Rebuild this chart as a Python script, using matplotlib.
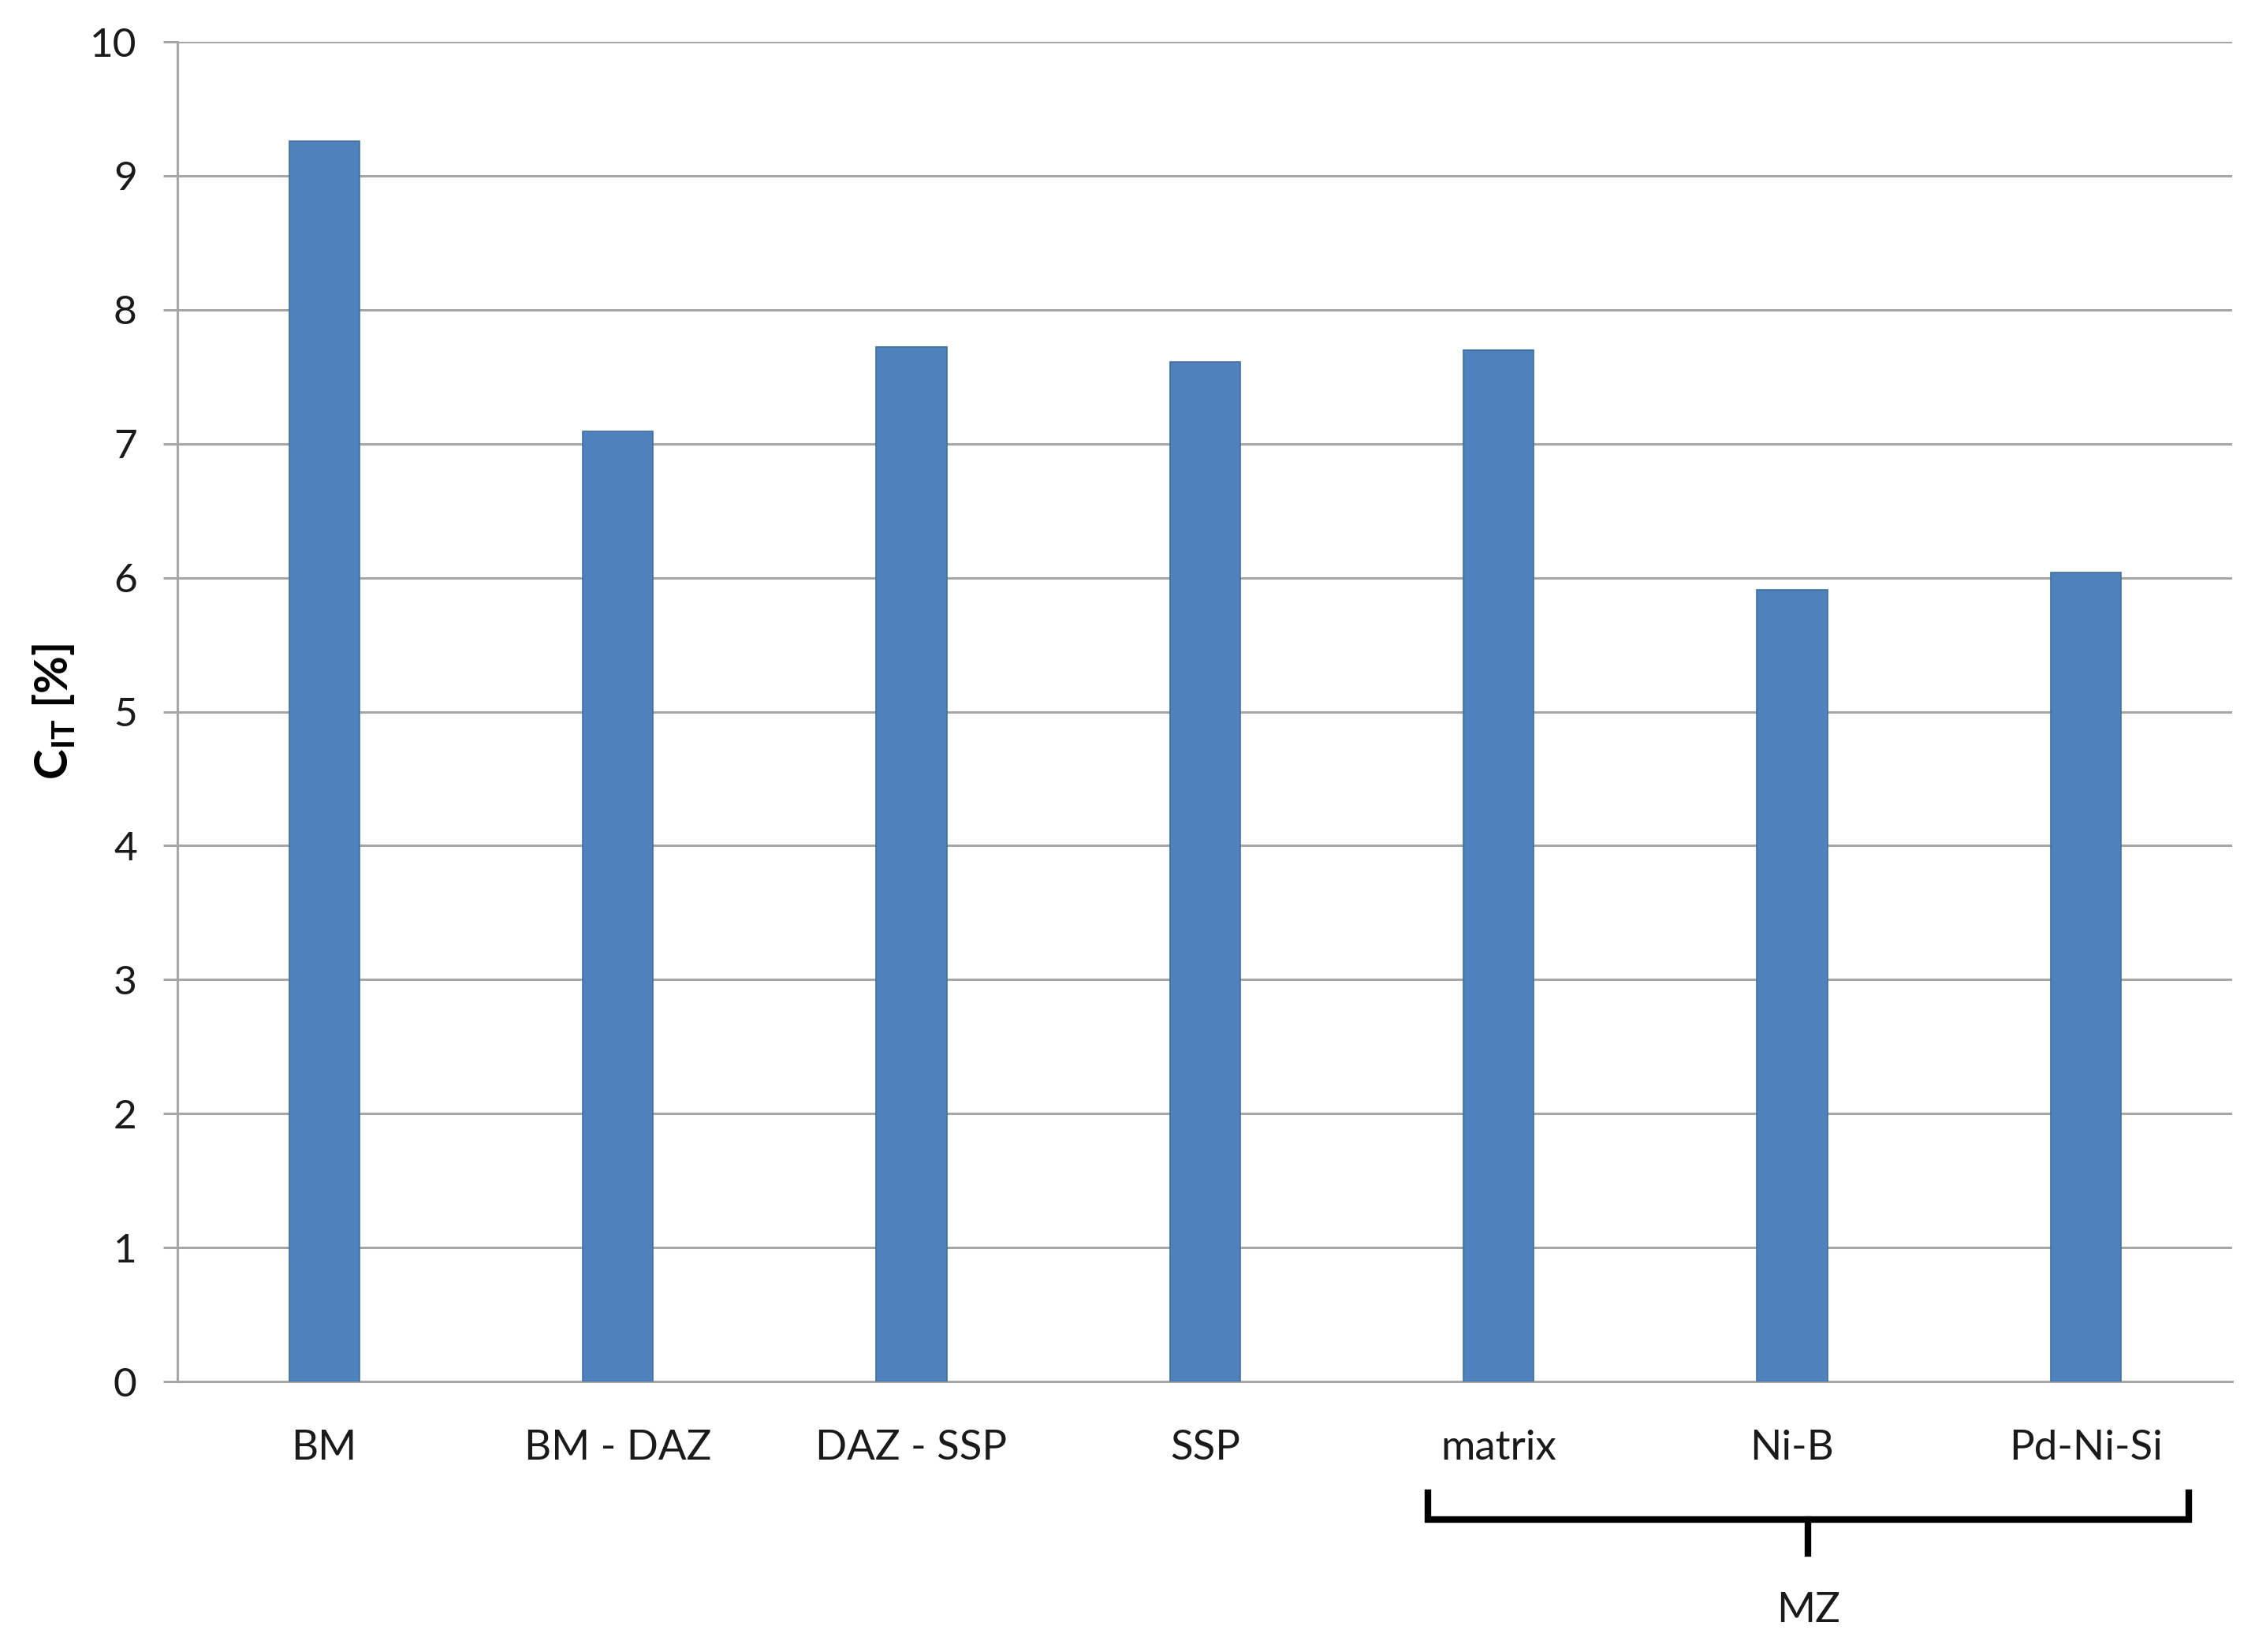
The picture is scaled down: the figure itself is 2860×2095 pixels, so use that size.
import matplotlib
matplotlib.use("Agg")
import matplotlib.pyplot as plt
import matplotlib.transforms as mtransforms

# values
categories = ["BM", "BM - DAZ", "DAZ - SSP", "SSP", "matrix", "Ni-B", "Pd-Ni-Si"]
cit_values = [9.26, 7.09, 7.72, 7.61, 7.70, 5.91, 6.04]
y_ticks = [0, 1, 2, 3, 4, 5, 6, 7, 8, 9, 10]
group_label = "MZ"
group_members = ["matrix", "Ni-B", "Pd-Ni-Si"]

plt.rcParams["font.family"] = ["Lato", "DejaVu Sans"]
plt.rcParams["mathtext.fontset"] = "custom"
plt.rcParams["mathtext.rm"] = "Lato"
plt.rcParams["mathtext.bf"] = "Lato:bold"

fig = plt.figure(figsize=(14.3, 10.475), dpi=200)
ax = fig.add_axes([0.0787, 0.1637, 0.9113, 0.811])

xs = list(range(len(categories)))
ax.bar(xs, cit_values, width=0.24, color="#4f81bd", edgecolor="#41709f",
       linewidth=0.6, zorder=3)

ax.set_xlim(-0.5, len(categories) - 0.5)
ax.set_ylim(0, 10)
ax.set_yticks(y_ticks)
ax.set_yticklabels([str(t) for t in y_ticks])
ax.set_xticks(xs)
ax.set_xticklabels(categories)

ax.yaxis.grid(True, color="#a6a6a6", linewidth=1.1, zorder=0)
ax.set_axisbelow(True)
for side in ("top", "right"):
    ax.spines[side].set_visible(False)
for side in ("left", "bottom"):
    ax.spines[side].set_color("#a6a6a6")
    ax.spines[side].set_linewidth(1.1)

ax.tick_params(axis="y", length=6.5, width=1.1, color="#a6a6a6",
               pad=12, labelsize=18.5, labelcolor="#1a1a1a")
ax.tick_params(axis="x", length=0, pad=22, labelsize=19, labelcolor="#1a1a1a")

ax.set_ylabel(r"$\mathbf{C_{IT}}$ [%]", fontsize=21, fontweight="bold")
ax.yaxis.set_label_coords(-0.049, 0.5)

# bracket under the MZ group
trans = mtransforms.blended_transform_factory(ax.transData, ax.transAxes)
i0 = categories.index(group_members[0])
i1 = categories.index(group_members[-1])
left, right = i0 - 0.24, i1 + 0.35
mid = (left + right) / 2
y_arm, y_bar, y_tip = -0.083, -0.103, -0.128
ax.plot([left, left, right, right], [y_arm, y_bar, y_bar, y_arm],
        color="black", linewidth=3, transform=trans, clip_on=False,
        solid_joinstyle="miter")
ax.plot([mid, mid], [y_bar, y_tip], color="black", linewidth=3,
        transform=trans, clip_on=False)
ax.text(mid, -0.171, group_label, transform=trans, ha="center", va="center",
        fontsize=19, color="#1a1a1a")

fig.savefig("out.png", dpi=200, facecolor="white")
